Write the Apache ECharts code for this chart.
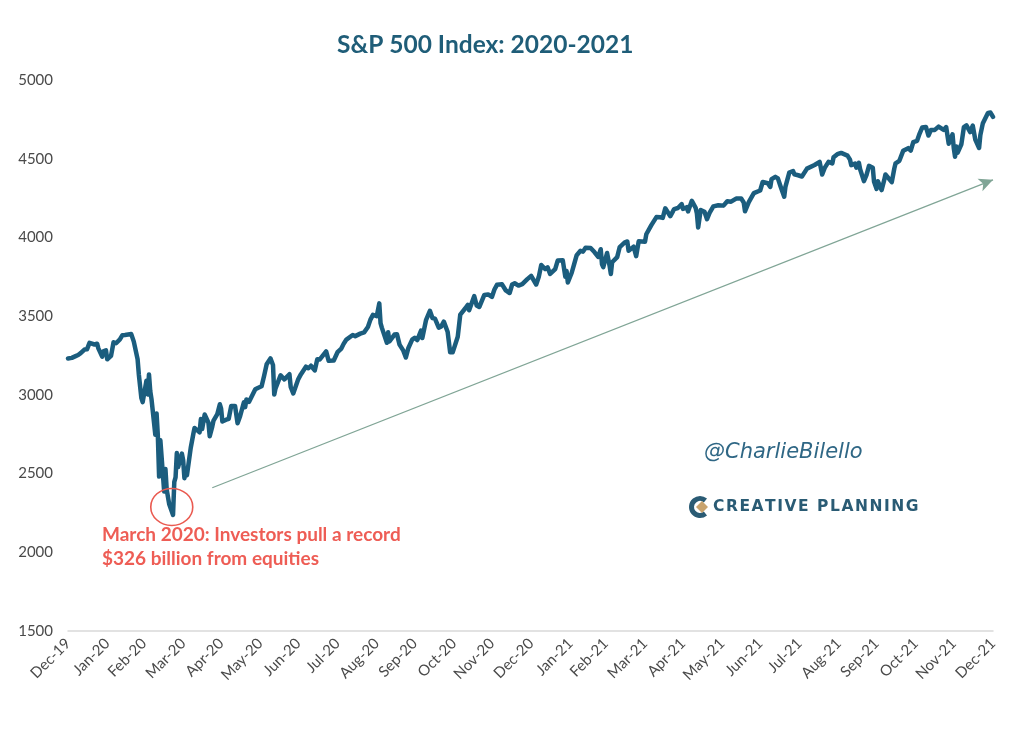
<!DOCTYPE html>
<html>
<head>
<meta charset="utf-8">
<script src="https://cdn.jsdelivr.net/npm/echarts@6/dist/echarts.min.js"></script>
<style>
  html, body { margin: 0; padding: 0; background: #fff; }
  #chart { width: 1036px; height: 734px; }
</style>
</head>
<body>
<div id="chart"></div>
<script>
// S&P 500 closes (dense around the March 2020 crash)
const dates = [
  '2019-12-31','2020-01-03','2020-01-06','2020-01-08','2020-01-10','2020-01-13','2020-01-15','2020-01-17','2020-01-21','2020-01-23','2020-01-24','2020-01-27','2020-01-28','2020-01-30','2020-01-31',
  '2020-02-03','2020-02-05','2020-02-07','2020-02-10','2020-02-12','2020-02-14','2020-02-19','2020-02-21','2020-02-24','2020-02-25','2020-02-27','2020-02-28',
  '2020-03-02','2020-03-03','2020-03-04','2020-03-05','2020-03-06','2020-03-09','2020-03-10','2020-03-11','2020-03-12','2020-03-13','2020-03-16','2020-03-17','2020-03-18','2020-03-19','2020-03-20','2020-03-23','2020-03-24','2020-03-25','2020-03-26','2020-03-27','2020-03-30','2020-03-31',
  '2020-04-01','2020-04-02','2020-04-03','2020-04-06','2020-04-08','2020-04-09','2020-04-13','2020-04-14','2020-04-15','2020-04-17','2020-04-20','2020-04-21','2020-04-23','2020-04-24','2020-04-27','2020-04-29','2020-04-30',
  '2020-05-01','2020-05-04','2020-05-06','2020-05-08','2020-05-11','2020-05-13','2020-05-15','2020-05-18','2020-05-19','2020-05-20','2020-05-22','2020-05-27','2020-05-29',
  '2020-06-01','2020-06-03','2020-06-05','2020-06-08','2020-06-10','2020-06-11','2020-06-12','2020-06-16','2020-06-19','2020-06-23','2020-06-24','2020-06-26','2020-06-30',
  '2020-07-02','2020-07-06','2020-07-08','2020-07-10','2020-07-13','2020-07-15','2020-07-17','2020-07-22','2020-07-24','2020-07-28','2020-07-31',
  '2020-08-03','2020-08-05','2020-08-07','2020-08-12','2020-08-14','2020-08-18','2020-08-21','2020-08-24','2020-08-26','2020-08-28','2020-08-31',
  '2020-09-02','2020-09-03','2020-09-04','2020-09-08','2020-09-09','2020-09-10','2020-09-14','2020-09-16','2020-09-18','2020-09-21','2020-09-23','2020-09-25','2020-09-28','2020-09-30',
  '2020-10-02','2020-10-05','2020-10-06','2020-10-09','2020-10-12','2020-10-14','2020-10-16','2020-10-19','2020-10-21','2020-10-23','2020-10-26','2020-10-28','2020-10-30',
  '2020-11-03','2020-11-05','2020-11-09','2020-11-11','2020-11-12','2020-11-16','2020-11-18','2020-11-20','2020-11-24','2020-11-27','2020-11-30',
  '2020-12-02','2020-12-04','2020-12-08','2020-12-11','2020-12-14','2020-12-16','2020-12-18','2020-12-21','2020-12-24','2020-12-28','2020-12-31',
  '2021-01-04','2021-01-06','2021-01-08','2021-01-11','2021-01-13','2021-01-15','2021-01-19','2021-01-21','2021-01-25','2021-01-27','2021-01-28','2021-01-29',
  '2021-02-01','2021-02-03','2021-02-05','2021-02-08','2021-02-10','2021-02-12','2021-02-16','2021-02-19','2021-02-22','2021-02-24','2021-02-25','2021-02-26',
  '2021-03-01','2021-03-03','2021-03-04','2021-03-05','2021-03-09','2021-03-11','2021-03-15','2021-03-17','2021-03-18','2021-03-22','2021-03-24','2021-03-26','2021-03-31',
  '2021-04-01','2021-04-05','2021-04-09','2021-04-12','2021-04-14','2021-04-16','2021-04-20','2021-04-23','2021-04-26','2021-04-29','2021-04-30',
  '2021-05-03','2021-05-04','2021-05-07','2021-05-10','2021-05-11','2021-05-12','2021-05-14','2021-05-17','2021-05-19','2021-05-21','2021-05-24','2021-05-28',
  '2021-06-01','2021-06-04','2021-06-07','2021-06-11','2021-06-15','2021-06-17','2021-06-18','2021-06-21','2021-06-25','2021-06-30',
  '2021-07-02','2021-07-06','2021-07-08','2021-07-09','2021-07-12','2021-07-14','2021-07-16','2021-07-19','2021-07-20','2021-07-23','2021-07-26','2021-07-27','2021-07-30',
  '2021-08-02','2021-08-06','2021-08-12','2021-08-16','2021-08-18','2021-08-19','2021-08-20','2021-08-23','2021-08-26','2021-08-27','2021-08-30',
  '2021-09-02','2021-09-07','2021-09-09','2021-09-10','2021-09-13','2021-09-14','2021-09-16','2021-09-17','2021-09-20','2021-09-22','2021-09-24','2021-09-27','2021-09-28','2021-09-30',
  '2021-10-01','2021-10-04','2021-10-06','2021-10-07','2021-10-08','2021-10-12','2021-10-14','2021-10-15','2021-10-18','2021-10-21','2021-10-25','2021-10-27','2021-10-29',
  '2021-11-01','2021-11-03','2021-11-05','2021-11-08','2021-11-10','2021-11-12','2021-11-15','2021-11-18','2021-11-22','2021-11-24','2021-11-26','2021-11-29','2021-11-30',
  '2021-12-01','2021-12-02','2021-12-03','2021-12-06','2021-12-08','2021-12-10','2021-12-13','2021-12-15','2021-12-17','2021-12-20','2021-12-21','2021-12-23','2021-12-27','2021-12-29','2021-12-30','2021-12-31'
];
const closes = [
  3231,3235,3246,3253,3265,3288,3289,3330,3320,3325,3295,3243,3276,3283,3226,
  3248,3334,3328,3352,3379,3380,3386,3338,3226,3128,2979,2954,
  3090,3003,3130,3024,2972,2747,2882,2741,2481,2711,2386,2529,2398,2409,2305,2237,2447,2476,2630,2541,2627,2585,
  2471,2527,2489,2664,2750,2790,2762,2846,2783,2875,2823,2737,2798,2837,2878,2940,2912,
  2831,2842,2848,2930,2930,2820,2864,2953,2922,2971,2955,3036,3044,
  3055,3122,3194,3232,3190,3002,3041,3124,3098,3131,3050,3009,3100,
  3130,3179,3169,3185,3155,3226,3225,3276,3216,3218,3271,
  3294,3327,3351,3380,3373,3389,3397,3431,3478,3508,3500,
  3581,3455,3427,3331,3398,3339,3383,3385,3319,3281,3237,3298,3351,3363,
  3348,3408,3361,3477,3534,3488,3484,3427,3435,3465,3401,3271,3270,
  3369,3510,3550,3572,3537,3627,3567,3558,3635,3638,3622,
  3669,3699,3702,3663,3647,3701,3709,3694,3703,3735,3756,
  3701,3748,3825,3799,3810,3768,3799,3853,3855,3751,3787,3714,
  3774,3831,3887,3915,3910,3935,3933,3907,3876,3925,3829,3811,
  3901,3820,3768,3842,3875,3939,3969,3974,3915,3941,3881,3975,3973,
  4020,4078,4129,4128,4124,4185,4135,4180,4187,4211,4181,
  4192,4165,4233,4188,4152,4063,4174,4163,4116,4156,4197,4204,
  4202,4230,4227,4247,4247,4222,4166,4224,4281,4298,
  4352,4344,4321,4370,4385,4375,4327,4259,4323,4412,4422,4401,4395,
  4387,4437,4460,4480,4400,4406,4442,4480,4470,4509,4529,
  4537,4520,4494,4459,4469,4443,4474,4433,4358,4396,4455,4443,4353,4308,
  4357,4301,4364,4400,4391,4351,4438,4471,4487,4550,4567,4552,4605,
  4614,4660,4698,4702,4647,4683,4683,4704,4683,4701,4595,4655,4567,
  4513,4577,4538,4592,4701,4712,4669,4710,4621,4568,4650,4726,4791,4793,4779,4766
];
// month-end tick positions, labelled like the original (Dec-19 ... Dec-21)
const tickDates = [
  '2019-12-31','2020-01-31','2020-02-29','2020-03-31','2020-04-30','2020-05-31','2020-06-30',
  '2020-07-31','2020-08-31','2020-09-30','2020-10-31','2020-11-30','2020-12-31',
  '2021-01-31','2021-02-28','2021-03-31','2021-04-30','2021-05-31','2021-06-30',
  '2021-07-31','2021-08-31','2021-09-30','2021-10-31','2021-11-30','2021-12-31'
];
const monthNames = ['Jan','Feb','Mar','Apr','May','Jun','Jul','Aug','Sep','Oct','Nov','Dec'];

// annotation anchors (data space)
const lowCircle = ['2020-03-22', 2288];
const trendArrow = [['2020-04-23', 2410], ['2021-12-31', 4366]];

const chart = echarts.init(document.getElementById('chart'));

// dates -> UTC day timestamps so a plain value axis can carry them
const ts = (d) => Date.parse(d + 'T00:00:00Z');
const tickValues = tickDates.map(ts);
const seriesData = dates.map((d, i) => [ts(d), closes[i]]);

// spread the logo letters a little (no letter-spacing in canvas text)
const logoText = 'CREATIVE PLANNING'.split('').join('\u200A');

const option = {
  backgroundColor: '#fff',
  animation: false,
  title: {
    text: 'S&P 500 Index: 2020-2021',
    left: 332,
    top: 28,
    textStyle: {
      fontFamily: 'Lato',
      fontSize: 24.5,
      fontWeight: 'bold',
      color: '#1f5d78',
    },
  },
  grid: {
    left: 68,
    right: 43,
    top: 80,
    bottom: 103,
  },
  xAxis: {
    type: 'value',
    min: tickValues[0],
    max: tickValues[tickValues.length - 1],
    axisLine: { show: true, lineStyle: { color: '#d9d9d9', width: 1.5 } },
    axisTick: { show: false },
    splitLine: { show: false },
    axisLabel: {
      customValues: tickValues,
      rotate: 45,
      margin: 10,
      fontFamily: 'Lato',
      fontSize: 15,
      color: '#4a4a4a',
      showMinLabel: true,
      showMaxLabel: true,
      hideOverlap: false,
      formatter: (val) => {
        const d = new Date(val);
        return monthNames[d.getUTCMonth()] + '-' + String(d.getUTCFullYear()).slice(2);
      },
    },
  },
  yAxis: {
    type: 'value',
    min: 1500,
    max: 5000,
    interval: 500,
    axisLine: { show: false },
    axisTick: { show: false },
    splitLine: { show: false },
    axisLabel: {
      margin: 15,
      fontFamily: 'Lato',
      fontSize: 15,
      color: '#4a4a4a',
      formatter: (v) => String(v),
    },
  },
  series: [
    {
      type: 'line',
      data: seriesData,
      showSymbol: false,
      symbol: 'none',
      lineStyle: { color: '#1b5d7e', width: 4.5, join: 'round', cap: 'round' },
      z: 3,
      markPoint: {
        silent: true,
        symbol: 'circle',
        symbolSize: [42, 37],
        itemStyle: { color: 'rgba(0,0,0,0)', borderColor: '#ea5a50', borderWidth: 1.5 },
        label: { show: false },
        data: [{ coord: [ts(lowCircle[0]), lowCircle[1]] }],
      },
      markLine: {
        silent: true,
        symbol: ['none', 'arrow'],
        symbolSize: [10, 14],
        lineStyle: { color: '#80a596', width: 1.3, type: 'solid' },
        label: { show: false },
        data: [[
          { coord: [ts(trendArrow[0][0]), trendArrow[0][1]] },
          { coord: [ts(trendArrow[1][0]), trendArrow[1][1]] },
        ]],
      },
    },
  ],
  graphic: [
    {
      type: 'text',
      left: 102,
      top: 523,
      style: {
        text: 'March 2020: Investors pull a record\n$326 billion from equities',
        fill: '#ee5d55',
        font: 'bold 19px Lato',
        lineHeight: 24,
      },
    },
    {
      type: 'text',
      left: 704,
      top: 442,
      style: {
        text: '@CharlieBilello',
        fill: '#2f6785',
        font: 'italic 21px "DejaVu Sans"',
      },
    },
    {
      type: 'arc',
      shape: { cx: 700, cy: 507, r: 8.5, startAngle: Math.PI * 0.28, endAngle: Math.PI * 1.72, clockwise: true },
      style: { stroke: '#2a5b74', lineWidth: 5, fill: null },
    },
    {
      type: 'polygon',
      shape: { points: [[702, 501], [708, 507], [702, 513], [696, 507]] },
      style: { fill: '#c8a36e' },
    },
    {
      type: 'text',
      left: 713,
      top: 499,
      style: {
        text: logoText,
        fill: '#2a5b74',
        font: 'bold 15.5px "DejaVu Sans"',
      },
    },
  ],
};

chart.setOption(option);
</script>
</body>
</html>
